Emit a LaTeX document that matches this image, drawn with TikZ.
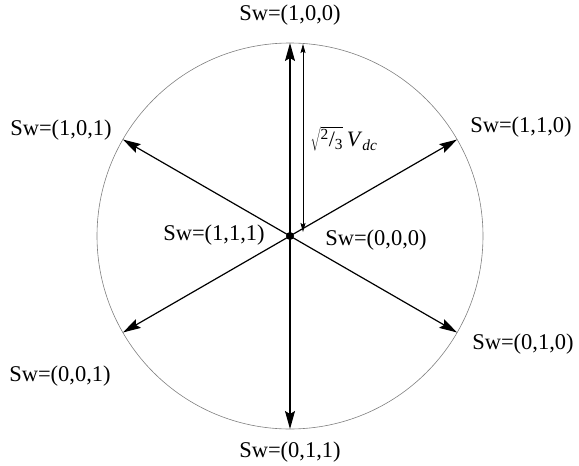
\documentclass[tikz,border=0pt]{standalone}
\usepackage{fontspec}
\setmainfont{Liberation Serif}
\usetikzlibrary{arrows.meta}
\begin{document}
\begin{tikzpicture}[x=1pt,y=-1pt,
  vec/.style={line width=1.2pt,-{Stealth[length=18pt,width=10pt,inset=3pt]}},
  meas/.style={line width=0.7pt,{Stealth[length=9pt,width=5pt,inset=1.5pt]}-{Stealth[length=9pt,width=5pt,inset=1.5pt]}},
  lab/.style={font=\fontsize{22.5}{24}\selectfont,inner sep=0pt}]
\useasboundingbox (0,0) rectangle (579,466);
\coordinate (O) at (290,236);
\draw[gray,line width=0.6pt] (O) circle[radius=193];
% tips (y axis points down, so angles measured accordingly)
\path (O) ++(-30:193) coordinate (t110);
\path (O) ++(-150:193) coordinate (t101);
\path (O) ++(150:193) coordinate (t001);
\path (O) ++(30:193) coordinate (t010);
\path (O) ++(-90:193) coordinate (t100);
\path (O) ++(90:193) coordinate (t011);
\draw[vec] (O) -- (t100);
\draw[vec] (O) -- (t011);
\draw[vec] (O) -- (t110);
\draw[vec] (O) -- (t101);
\draw[vec] (O) -- (t001);
\draw[vec] (O) -- (t010);
\fill (O) circle[radius=4];
\coordinate (mtop) at (303,44);
\coordinate (mbot) at (303,232);
\draw[meas] (mtop) -- (mbot);
\node[lab] (L100) at (290,15) {Sw=(1,0,0)};
\node[lab] (L101) at (61,130) {Sw=(1,0,1)};
\node[lab] (L110) at (521,127) {Sw=(1,1,0)};
\node[lab] (L111) at (214,235) {Sw=(1,1,1)};
\node[lab] (L000) at (376,240) {Sw=(0,0,0)};
\node[lab] (L001) at (60,376) {Sw=(0,0,1)};
\node[lab] (L010) at (523,344) {Sw=(0,1,0)};
\node[lab] (L011) at (290,452) {Sw=(0,1,1)};
\node[lab,font=\fontsize{22}{24}\selectfont] (Lv) at (344,139) {$\sqrt{\vphantom{X}\hbox{\textsuperscript{2}/\textsubscript{3}}}$\,\textit{V}\textsubscript{\textit{dc}}};
\end{tikzpicture}
\end{document}
